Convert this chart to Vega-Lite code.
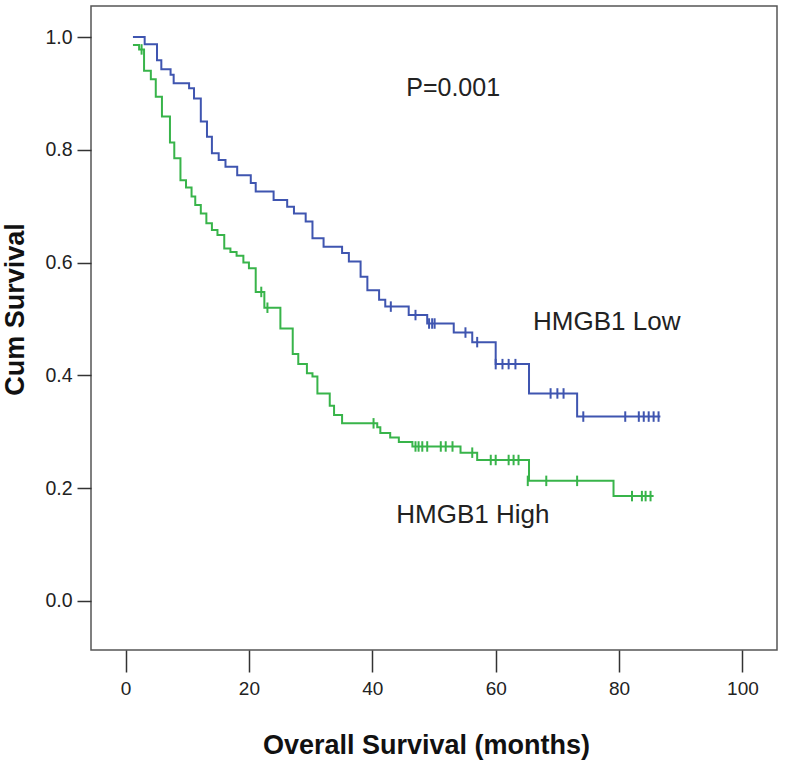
{
  "$schema": "https://vega.github.io/schema/vega-lite/v6.json",
  "width": 686,
  "height": 644,
  "autosize": "none",
  "padding": {"left": 91, "top": 6, "right": 8, "bottom": 113},
  "background": "white",
  "config": {
    "view": {"stroke": "#555555", "strokeWidth": 1.5},
    "font": "Liberation Sans, Arial, sans-serif"
  },
  "datasets": {
    "curve": [
      {"group": "Low", "time": 1.2, "surv": 1.0},
      {"group": "Low", "time": 3.1, "surv": 0.987},
      {"group": "Low", "time": 5.1, "surv": 0.959},
      {"group": "Low", "time": 5.8, "surv": 0.943},
      {"group": "Low", "time": 7.3, "surv": 0.933},
      {"group": "Low", "time": 7.8, "surv": 0.918},
      {"group": "Low", "time": 10.3, "surv": 0.909},
      {"group": "Low", "time": 11.1, "surv": 0.891},
      {"group": "Low", "time": 12.2, "surv": 0.85},
      {"group": "Low", "time": 13.2, "surv": 0.823},
      {"group": "Low", "time": 14.0, "surv": 0.794},
      {"group": "Low", "time": 15.1, "surv": 0.782},
      {"group": "Low", "time": 16.2, "surv": 0.77},
      {"group": "Low", "time": 18.1, "surv": 0.755},
      {"group": "Low", "time": 20.3, "surv": 0.741},
      {"group": "Low", "time": 21.1, "surv": 0.726},
      {"group": "Low", "time": 24.0, "surv": 0.711},
      {"group": "Low", "time": 26.2, "surv": 0.699},
      {"group": "Low", "time": 27.3, "surv": 0.687},
      {"group": "Low", "time": 29.2, "surv": 0.673},
      {"group": "Low", "time": 30.3, "surv": 0.643},
      {"group": "Low", "time": 32.1, "surv": 0.628},
      {"group": "Low", "time": 35.1, "surv": 0.617},
      {"group": "Low", "time": 36.2, "surv": 0.602},
      {"group": "Low", "time": 38.1, "surv": 0.575},
      {"group": "Low", "time": 39.2, "surv": 0.551},
      {"group": "Low", "time": 41.1, "surv": 0.534},
      {"group": "Low", "time": 42.1, "surv": 0.522},
      {"group": "Low", "time": 45.9, "surv": 0.507},
      {"group": "Low", "time": 48.9, "surv": 0.492},
      {"group": "Low", "time": 53.2, "surv": 0.476},
      {"group": "Low", "time": 56.2, "surv": 0.459},
      {"group": "Low", "time": 60.0, "surv": 0.42},
      {"group": "Low", "time": 65.4, "surv": 0.368},
      {"group": "Low", "time": 73.2, "surv": 0.327},
      {"group": "Low", "time": 86.7, "surv": 0.327},
      {"group": "High", "time": 1.2, "surv": 0.986},
      {"group": "High", "time": 2.2, "surv": 0.978},
      {"group": "High", "time": 3.0, "surv": 0.94},
      {"group": "High", "time": 4.1, "surv": 0.925},
      {"group": "High", "time": 4.9, "surv": 0.894},
      {"group": "High", "time": 5.9, "surv": 0.859},
      {"group": "High", "time": 7.2, "surv": 0.813},
      {"group": "High", "time": 7.9, "surv": 0.785},
      {"group": "High", "time": 8.9, "surv": 0.746},
      {"group": "High", "time": 9.8, "surv": 0.733},
      {"group": "High", "time": 10.7, "surv": 0.717},
      {"group": "High", "time": 11.3, "surv": 0.702},
      {"group": "High", "time": 12.2, "surv": 0.687},
      {"group": "High", "time": 13.1, "surv": 0.67},
      {"group": "High", "time": 14.0, "surv": 0.658},
      {"group": "High", "time": 14.9, "surv": 0.649},
      {"group": "High", "time": 16.0, "surv": 0.625},
      {"group": "High", "time": 17.0, "surv": 0.619},
      {"group": "High", "time": 18.0, "surv": 0.612},
      {"group": "High", "time": 19.1, "surv": 0.6},
      {"group": "High", "time": 20.0, "surv": 0.59},
      {"group": "High", "time": 21.1, "surv": 0.548},
      {"group": "High", "time": 22.5, "surv": 0.52},
      {"group": "High", "time": 25.1, "surv": 0.483},
      {"group": "High", "time": 27.1, "surv": 0.438},
      {"group": "High", "time": 28.0, "surv": 0.42},
      {"group": "High", "time": 29.4, "surv": 0.404},
      {"group": "High", "time": 30.3, "surv": 0.398},
      {"group": "High", "time": 31.1, "surv": 0.368},
      {"group": "High", "time": 33.1, "surv": 0.346},
      {"group": "High", "time": 33.8, "surv": 0.33},
      {"group": "High", "time": 35.1, "surv": 0.315},
      {"group": "High", "time": 40.8, "surv": 0.308},
      {"group": "High", "time": 41.3, "surv": 0.298},
      {"group": "High", "time": 42.9, "surv": 0.29},
      {"group": "High", "time": 44.3, "surv": 0.282},
      {"group": "High", "time": 46.5, "surv": 0.274},
      {"group": "High", "time": 54.3, "surv": 0.263},
      {"group": "High", "time": 57.0, "surv": 0.25},
      {"group": "High", "time": 65.4, "surv": 0.213},
      {"group": "High", "time": 79.1, "surv": 0.186},
      {"group": "High", "time": 85.6, "surv": 0.186}
    ],
    "censor": [
      {"group": "Low", "time": 43.0, "surv": 0.522},
      {"group": "Low", "time": 47.0, "surv": 0.507},
      {"group": "Low", "time": 49.2, "surv": 0.492},
      {"group": "Low", "time": 49.7, "surv": 0.492},
      {"group": "Low", "time": 50.1, "surv": 0.492},
      {"group": "Low", "time": 55.1, "surv": 0.476},
      {"group": "Low", "time": 57.0, "surv": 0.459},
      {"group": "Low", "time": 60.0, "surv": 0.42},
      {"group": "Low", "time": 61.1, "surv": 0.42},
      {"group": "Low", "time": 62.1, "surv": 0.42},
      {"group": "Low", "time": 63.2, "surv": 0.42},
      {"group": "Low", "time": 68.9, "surv": 0.368},
      {"group": "Low", "time": 70.0, "surv": 0.368},
      {"group": "Low", "time": 71.0, "surv": 0.368},
      {"group": "Low", "time": 74.2, "surv": 0.327},
      {"group": "Low", "time": 81.0, "surv": 0.327},
      {"group": "Low", "time": 83.2, "surv": 0.327},
      {"group": "Low", "time": 84.0, "surv": 0.327},
      {"group": "Low", "time": 84.8, "surv": 0.327},
      {"group": "Low", "time": 85.6, "surv": 0.327},
      {"group": "Low", "time": 86.4, "surv": 0.327},
      {"group": "High", "time": 2.6, "surv": 0.978},
      {"group": "High", "time": 22.0, "surv": 0.548},
      {"group": "High", "time": 23.0, "surv": 0.52},
      {"group": "High", "time": 40.2, "surv": 0.315},
      {"group": "High", "time": 47.0, "surv": 0.274},
      {"group": "High", "time": 47.5, "surv": 0.274},
      {"group": "High", "time": 48.1, "surv": 0.274},
      {"group": "High", "time": 48.9, "surv": 0.274},
      {"group": "High", "time": 51.1, "surv": 0.274},
      {"group": "High", "time": 51.9, "surv": 0.274},
      {"group": "High", "time": 53.0, "surv": 0.274},
      {"group": "High", "time": 56.2, "surv": 0.263},
      {"group": "High", "time": 59.2, "surv": 0.25},
      {"group": "High", "time": 60.0, "surv": 0.25},
      {"group": "High", "time": 62.1, "surv": 0.25},
      {"group": "High", "time": 62.9, "surv": 0.25},
      {"group": "High", "time": 63.7, "surv": 0.25},
      {"group": "High", "time": 65.2, "surv": 0.213},
      {"group": "High", "time": 68.2, "surv": 0.213},
      {"group": "High", "time": 73.2, "surv": 0.213},
      {"group": "High", "time": 82.1, "surv": 0.186},
      {"group": "High", "time": 83.7, "surv": 0.186},
      {"group": "High", "time": 84.3, "surv": 0.186},
      {"group": "High", "time": 85.1, "surv": 0.186}
    ],
    "notes": [
      {"label": "P=0.001", "time": 53.1, "surv": 0.895},
      {"label": "HMGB1 Low", "time": 78.0, "surv": 0.48},
      {"label": "HMGB1 High", "time": 56.3, "surv": 0.138}
    ]
  },
  "layer": [
    {
      "data": {"name": "curve"},
      "mark": {"type": "line", "interpolate": "step-after", "strokeWidth": 2},
      "encoding": {
        "x": {
          "field": "time",
          "type": "quantitative",
          "scale": {"domain": [-5.6, 105.6], "nice": false, "zero": false},
          "axis": {
            "title": "Overall Survival (months)",
            "values": [0, 20, 40, 60, 80, 100],
            "grid": false,
            "domain": false,
            "tickSize": 22,
            "tickColor": "#333333",
            "tickWidth": 1.5,
            "labelPadding": 7,
            "labelFontSize": 19,
            "labelColor": "#222222",
            "titleFontSize": 27,
            "titleFontWeight": "bold",
            "titleColor": "#111111",
            "titleX": 335,
            "titleY": 95,
            "titleBaseline": "middle"
          }
        },
        "y": {
          "field": "surv",
          "type": "quantitative",
          "scale": {"domain": [-0.0869, 1.055], "nice": false, "zero": false},
          "axis": {
            "title": "Cum Survival",
            "values": [0, 0.2, 0.4, 0.6, 0.8, 1.0],
            "format": ".1f",
            "grid": false,
            "domain": false,
            "tickSize": 14,
            "tickColor": "#333333",
            "tickWidth": 1.5,
            "labelPadding": 5,
            "labelFontSize": 19.5,
            "labelColor": "#222222",
            "titleFontSize": 27,
            "titleFontWeight": "bold",
            "titleColor": "#111111",
            "titleX": -76,
            "titleY": 303,
            "titleBaseline": "middle"
          }
        },
        "color": {
          "field": "group",
          "type": "nominal",
          "scale": {"domain": ["Low", "High"], "range": ["#3F55B0", "#38B44A"]},
          "legend": null
        },
        "order": {"field": "time", "type": "quantitative"}
      }
    },
    {
      "data": {"name": "censor"},
      "mark": {"type": "point", "shape": "M0,-1L0,1", "size": 110, "strokeWidth": 2, "filled": false, "opacity": 1},
      "encoding": {
        "x": {"field": "time", "type": "quantitative"},
        "y": {"field": "surv", "type": "quantitative"},
        "color": {"field": "group", "type": "nominal", "legend": null}
      }
    },
    {
      "data": {"name": "notes"},
      "mark": {"type": "text", "fontSize": 26, "align": "center", "baseline": "alphabetic", "color": "#222222"},
      "encoding": {
        "x": {"field": "time", "type": "quantitative"},
        "y": {"field": "surv", "type": "quantitative"},
        "text": {"field": "label", "type": "nominal"},
        "size": {"condition": {"test": "datum.label === 'P=0.001'", "value": 25}, "value": 26}
      }
    }
  ]
}
